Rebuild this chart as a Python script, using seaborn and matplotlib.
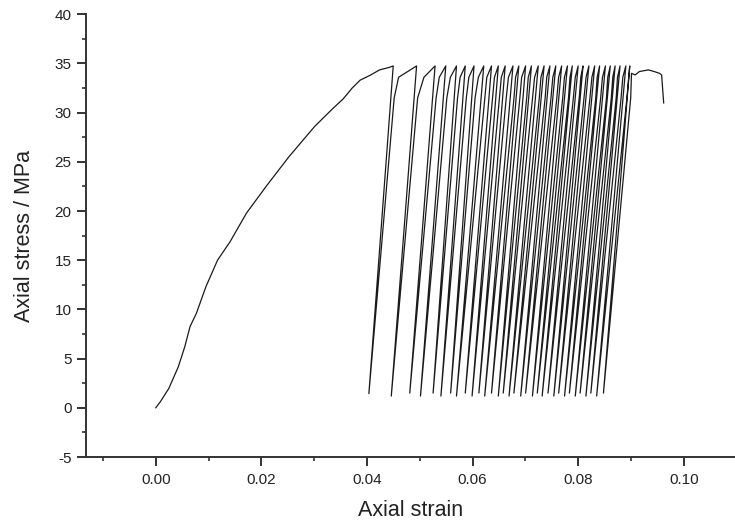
import numpy as np
import pandas as pd
from matplotlib import pyplot as plt
from matplotlib.ticker import MultipleLocator
import seaborn as sns

sns.set_style('ticks')
plt.rcParams['font.family'] = ['Liberation Sans', 'DejaVu Sans']
plt.rcParams['axes.unicode_minus'] = False

# monotonic loading branch up to the first peak
load_strain = [0.0, 0.0009, 0.0025, 0.0043, 0.0055, 0.0065, 0.0077, 0.0095,
               0.0117, 0.0141, 0.0172, 0.0209, 0.0252, 0.0301, 0.0335, 0.0355,
               0.0372, 0.0387, 0.0406, 0.0424, 0.0442]
load_stress = [0.0, 0.64, 1.99, 4.2, 6.2, 8.26, 9.6, 12.3,
               15.0, 16.9, 19.8, 22.5, 25.5, 28.6, 30.4, 31.4,
               32.5, 33.3, 33.8, 34.35, 34.6]

# cyclic part: peak -> trough (unload), trough -> knee -> shoulder -> next peak
peak_strain = [0.04498, 0.04940, 0.05290, 0.05493, 0.05696, 0.05862, 0.06028,
               0.06212, 0.06359, 0.06488, 0.06618, 0.06765, 0.06876, 0.07005,
               0.07115, 0.07244, 0.07355, 0.07465, 0.07576, 0.07687, 0.07797,
               0.07889, 0.08000, 0.08092, 0.08203, 0.08313, 0.08406, 0.08516,
               0.08608, 0.08700, 0.08793, 0.08903, 0.08977]
peak_stress = 34.75
trough_strain = [0.04037, 0.04461, 0.04811, 0.05014, 0.05253, 0.05401, 0.05585,
                 0.05696, 0.05862, 0.05991, 0.06120, 0.06230, 0.06359, 0.06488,
                 0.06581, 0.06691, 0.06783, 0.06912, 0.07005, 0.07134, 0.07226,
                 0.07318, 0.07429, 0.07539, 0.07631, 0.07742, 0.07834, 0.07945,
                 0.08037, 0.08147, 0.08240, 0.08350, 0.08479]
trough_stress = [1.45, 1.2, 1.5, 1.2, 1.5, 1.2, 1.5, 1.2, 1.5, 1.2, 1.5,
                 1.2, 1.5, 1.2, 1.5, 1.2, 1.5, 1.2, 1.5, 1.2, 1.5, 1.2,
                 1.5, 1.2, 1.5, 1.2, 1.5, 1.2, 1.5, 1.2, 1.5, 1.2, 1.5]
knee_strain = [0.04516, 0.04960, 0.05310, 0.05513, 0.05716, 0.05882, 0.06048,
               0.06232, 0.06379, 0.06508, 0.06638, 0.06785, 0.06896, 0.07025,
               0.07135, 0.07264, 0.07375, 0.07485, 0.07596, 0.07707, 0.07817,
               0.07909, 0.08020, 0.08112, 0.08223, 0.08333, 0.08426, 0.08536,
               0.08628, 0.08720, 0.08813, 0.08923, 0.08995]
knee_stress = 31.5
shoulder_strain = [0.04600, 0.05080, 0.05370, 0.05580, 0.05765, 0.05930,
                   0.06110, 0.06270, 0.06415, 0.06545, 0.06680, 0.06815,
                   0.06930, 0.07055, 0.07175, 0.07295, 0.07405, 0.07520,
                   0.07630, 0.07740, 0.07845, 0.07945, 0.08050, 0.08150,
                   0.08260, 0.08360, 0.08460, 0.08560, 0.08655, 0.08745,
                   0.08845]
shoulder_stress = 33.6

# post-peak tail after the last reload
tail_strain = [0.0901, 0.0908, 0.0916, 0.0933, 0.0944, 0.0954, 0.0958, 0.0962]
tail_stress = [34.0, 33.84, 34.18, 34.35, 34.18, 34.0, 33.84, 30.97]

xs = list(load_strain)
ys = list(load_stress)
n = len(peak_strain)
for i in range(n):
    xs += [peak_strain[i], trough_strain[i], knee_strain[i]]
    ys += [peak_stress, trough_stress[i], knee_stress]
    if i < len(shoulder_strain):
        xs.append(shoulder_strain[i])
        ys.append(shoulder_stress)
xs += tail_strain
ys += tail_stress

df = pd.DataFrame({'strain': xs, 'stress': ys})

fig = plt.figure(figsize=(7.35, 5.29), dpi=100)
ax = fig.add_axes([0.117, 0.136, 0.883, 0.837])

sns.lineplot(data=df, x='strain', y='stress', sort=False, estimator=None,
             color='#1a1a1a', linewidth=0.9, ax=ax)

ax.set_xlim(-0.0132, 0.1097)
ax.set_ylim(-5, 40)
ax.xaxis.set_major_locator(MultipleLocator(0.02))
ax.xaxis.set_minor_locator(MultipleLocator(0.01))
ax.yaxis.set_major_locator(MultipleLocator(5))
ax.yaxis.set_minor_locator(MultipleLocator(2.5))
ax.xaxis.set_major_formatter(plt.FormatStrFormatter('%.2f'))

for side in ['top', 'right']:
    ax.spines[side].set_visible(False)
for side in ['left', 'bottom']:
    ax.spines[side].set_color('#333333')
    ax.spines[side].set_linewidth(1.4)

ax.tick_params(which='major', direction='out', length=6.5, width=1.4,
               color='#333333', labelsize=11, labelcolor='#222222')
ax.tick_params(which='minor', direction='out', length=3.2, width=1.2,
               color='#333333')
ax.tick_params(axis='x', which='major', pad=5)
ax.tick_params(axis='y', which='major', pad=4)

ax.set_xlabel('Axial strain', fontsize=15.5, color='#222222', labelpad=9)
ax.set_ylabel('Axial stress / MPa', fontsize=15.5, color='#222222', labelpad=14)

plt.savefig('out.png', dpi=100)
